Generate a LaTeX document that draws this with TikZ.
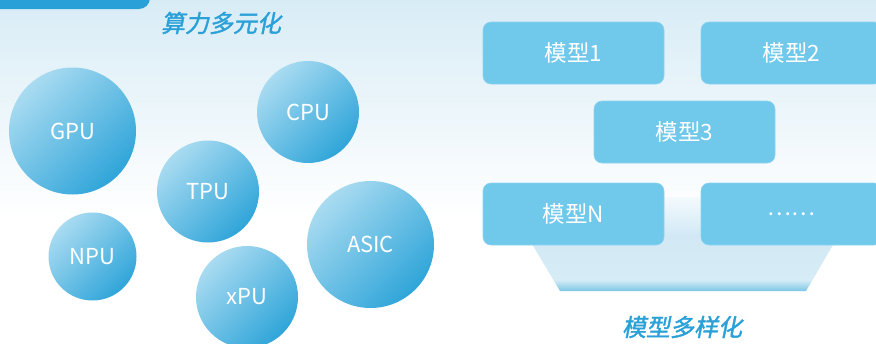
\documentclass[tikz,border=0pt]{standalone}
\usepackage{fontspec}
\setmainfont{Noto Sans CJK SC}
\newfontfamily\titlefont[FakeSlant=0.2,FakeBold=1.5]{Noto Sans CJK SC}
\definecolor{bgtop}{HTML}{D8ECF6}
\definecolor{cl}{HTML}{A9DBF1}
\definecolor{cd}{HTML}{2FA5D9}
\definecolor{boxc}{HTML}{70C8EA}
\definecolor{boxe}{HTML}{8ED4F0}
\definecolor{ttl}{HTML}{29A0D8}
\definecolor{barc}{HTML}{2AA0D8}
\definecolor{tpA}{HTML}{F4FAFD}
\definecolor{tpB}{HTML}{D2E9F5}
\definecolor{tpC}{HTML}{D6ECF6}
\definecolor{tpD}{HTML}{7CC6E5}
\pgfdeclareverticalshading{trapshade}{100bp}{color(0bp)=(tpD); color(25bp)=(tpD); color(31bp)=(tpC); color(55bp)=(tpB); color(75bp)=(tpA); color(100bp)=(tpA)}
\tikzset{
  chip/.style={circle, inner sep=0pt, top color=cl, bottom color=cd, shading angle=45,
    text=white, font=\fontsize{22}{25}\selectfont},
  model/.style={rectangle, rounded corners=8pt, fill=boxc, draw=boxe, line width=0.6pt,
    minimum width=181pt, minimum height=62pt, inner sep=0pt, text=white,
    font=\fontsize{22.5}{26}\selectfont},
  heading/.style={text=ttl, font=\titlefont\fontsize{24}{28}\selectfont, inner sep=0pt}
}
\begin{document}
\begin{tikzpicture}[x=1pt,y=-1pt]
\useasboundingbox (0,0) rectangle (876,343);
\clip (0,0) rectangle (876,343);
\fill[white] (0,0) rectangle (876,343);
\fill[top color=bgtop, bottom color=white] (0,0) rectangle (876,215);
% top-left bar
\fill[barc, rounded corners=11pt] (-30,-40) rectangle (150,9);
% titles
\node[heading] (t1) at (221,23) {算力多元化};
\node[heading] (t2) at (682,327) {模型多样化};
% circles
\node[chip, minimum size=127pt] (gpu) at (72.5,131) {GPU};
\node[chip, minimum size=102pt] (cpu) at (308,112) {CPU};
\node[chip, minimum size=102pt] (tpu) at (208,191.5) {TPU};
\node[chip, minimum size=88pt] (npu) at (92.5,256.5) {NPU};
\node[chip, minimum size=102pt] (xpu) at (247,297) {xPU};
\node[chip, minimum size=127pt] (asic) at (370.5,244.5) {ASIC};
% trapezoid glow
\shade[shading=trapshade] (504,197) -- (861,197) -- (806,291) -- (560,291) -- cycle;
% models
\node[model] (m1) at (573.5,53) {模型1};
\node[model] (m2) at (791.5,53) {模型2};
\node[model] (m3) at (684.5,132) {模型3};
\node[model] (mn) at (573.5,214) {模型N};
\node[model] (md) at (791.5,214) {……};
\end{tikzpicture}
\end{document}
